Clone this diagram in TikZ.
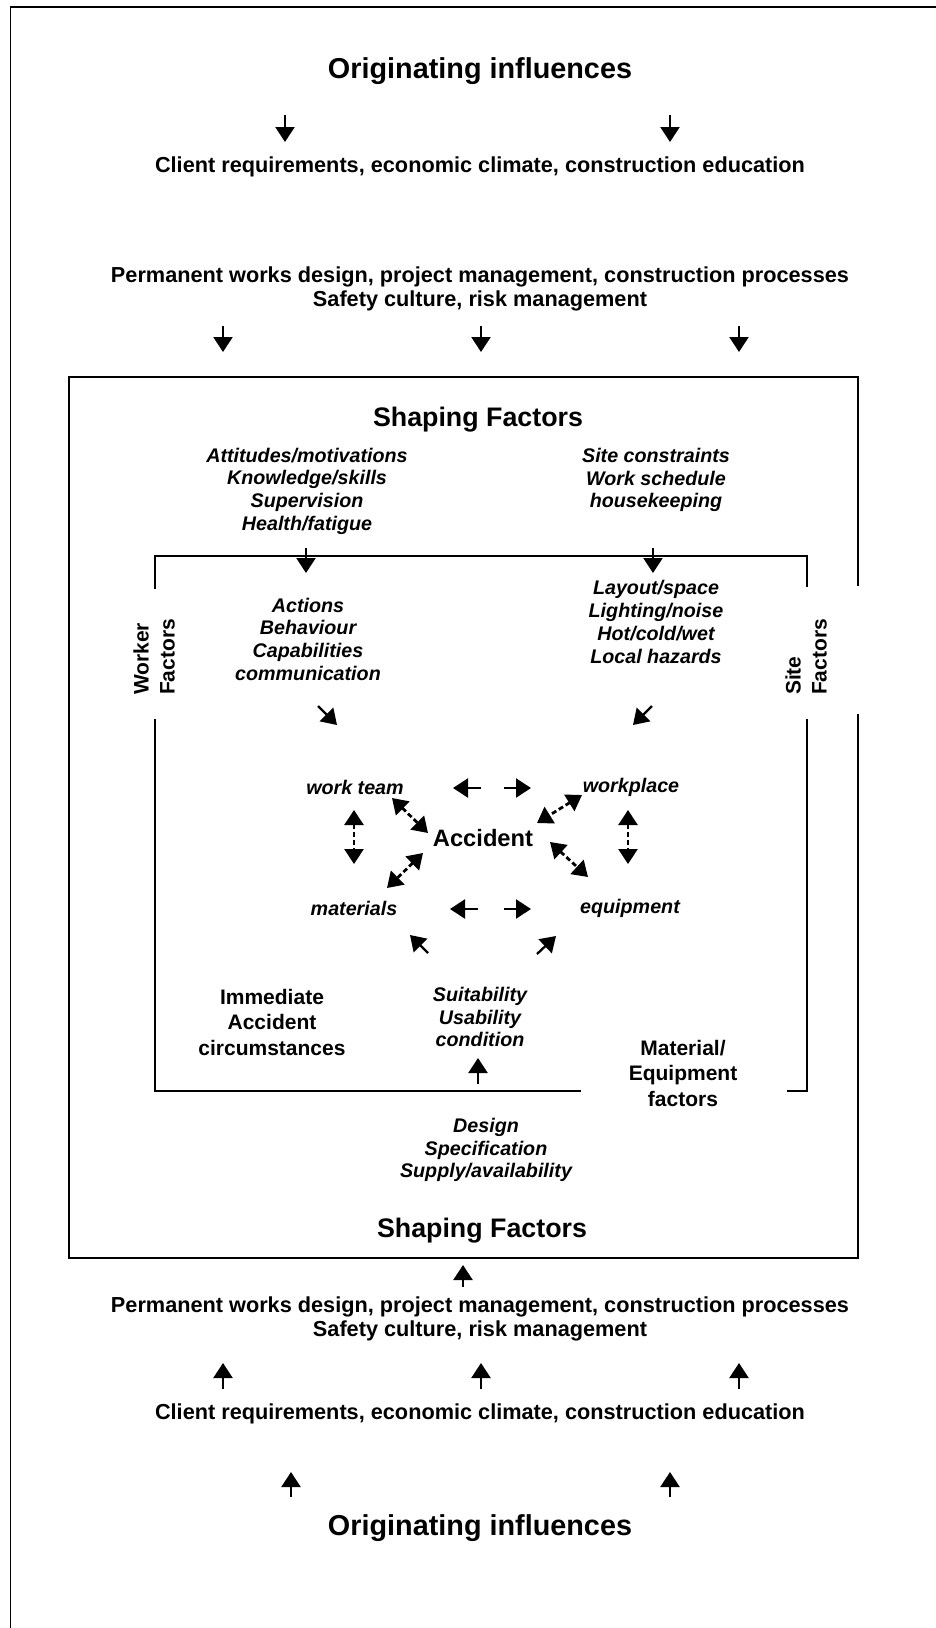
\documentclass[tikz,border=0pt]{standalone}
\usepackage{fontspec}
\setmainfont{Liberation Sans}
\usetikzlibrary{arrows.meta}

\begin{document}
\begin{tikzpicture}[x=1pt,y=-1pt,
  frame/.style={line width=1.8pt, line cap=rect},
  boxline/.style={line width=1.5pt},
  head/.style={font=\bfseries\fontsize{28.8}{32}\selectfont, inner sep=0pt},
  subhead/.style={font=\bfseries\fontsize{26.8}{30}\selectfont, inner sep=0pt},
  lbl/.style={font=\bfseries\fontsize{21.7}{24.5}\selectfont, align=center, inner sep=0pt},
  plain/.style={font=\bfseries\fontsize{21}{25.5}\selectfont, align=center, inner sep=0pt},
  side/.style={font=\bfseries\fontsize{21}{26}\selectfont, align=left, inner sep=0pt},
  ital/.style={font=\bfseries\itshape\fontsize{19.7}{22.7}\selectfont, align=center, inner sep=0pt},
  item/.style={font=\bfseries\itshape\fontsize{19.7}{22}\selectfont, inner sep=0pt},
  acc/.style={font=\bfseries\fontsize{23.7}{26}\selectfont, inner sep=0pt},
  tip/.tip={Triangle[length=15pt,width=19pt]},
  arr/.style={line width=2.3pt, -tip},
  darr/.style={line width=2.8pt, tip-tip, dash pattern=on 5pt off 3pt},
]
\useasboundingbox (0,0) rectangle (936,1628);

% page frame
\draw[frame] (10.5,1628) -- (10.5,7) -- (936,7);

% outer "Shaping Factors" box, opened where the site label sits
\draw[boxline] (858,586) -- (858,377) -- (69,377) -- (69,1258) -- (858,1258) -- (858,714);

% inner box, opened for the three side labels
\draw[boxline] (155,589) -- (155,556) -- (807,556) -- (807,587);
\draw[boxline] (807,719) -- (807,1091) -- (787,1091);
\draw[boxline] (581,1091) -- (155,1091) -- (155,719);

% texts
\node[head] (orig1) at (480,71) {Originating influences};
\node[lbl] (client1) at (480,167) {Client requirements, economic climate, construction education};
\node[lbl] (perm1) at (480,289) {Permanent works design, project management, construction processes\\Safety culture, risk management};
\node[subhead] (shape1) at (478,420) {Shaping Factors};
\node[ital] (workerin) at (307,491) {Attitudes/motivations\\Knowledge/skills\\Supervision\\Health/fatigue};
\node[ital] (sitein) at (656,480) {Site constraints\\Work schedule\\housekeeping};
\node[ital] (actions) at (308,639) {Actions\\Behaviour\\Capabilities\\communication};
\node[ital] (layout) at (656,622) {Layout/space\\Lighting/noise\\Hot/cold/wet\\Local hazards};
\node[side, rotate=90] (wf) at (154,657) {Worker\\Factors};
\node[side, rotate=90] (sf) at (806,657) {Site\\Factors};
\node[item] (team) at (355,787) {work team};
\node[item] (place) at (631,787) {workplace};
\node[acc] (accident) at (483,838) {Accident};
\node[item] (mat) at (354,908) {materials};
\node[item] (equip) at (630,908) {equipment};
\node[plain] (imm) at (272,1022) {Immediate\\Accident\\circumstances};
\node[ital] (suit) at (480,1017) {Suitability\\Usability\\condition};
\node[plain] (meq) at (683,1073) {Material/\\Equipment\\factors};
\node[ital] (design) at (486,1150) {Design\\Specification\\Supply/availability};
\node[subhead] (shape2) at (482,1231) {Shaping Factors};
\node[lbl] (perm2) at (480,1319) {Permanent works design, project management, construction processes\\Safety culture, risk management};
\node[lbl] (client2) at (480,1414) {Client requirements, economic climate, construction education};
\node[head] (orig2) at (480,1528) {Originating influences};

% single arrows: name / start / end
\foreach \n/\xa/\ya/\xb/\yb in {
  d1/285/115/285/142, d2/670/115/670/142,
  d3/223/326/223/352, d4/481/326/481/352, d5/739/326/739/352,
  d6/306/548/306/573, d7/653/548/653/573,
  s1/318/706/337/725, s2/652/706/633/725,
  h1/481/788/453/788, h2/504/788/531/788,
  h3/478/909/450/909, h4/504/909/531/909,
  s3/428/953/410/935, s4/537/954/556/936,
  u1/478/1084/478/1058, u2/463/1287/463/1265,
  u3/223/1389/223/1363, u4/481/1389/481/1363, u5/739/1389/739/1363,
  u6/291/1497/291/1472, u7/670/1497/670/1472}
{
  \coordinate (\n a) at (\xa,\ya);
  \coordinate (\n b) at (\xb,\yb);
  \draw[arr] (\n a) -- (\n b);
}

% dashed two-way links around the accident
\foreach \n/\xa/\ya/\xb/\yb in {
  b1/392/798/428/833, b2/582/795/537/823,
  b3/550/842/588/877, b4/423/853/387/888,
  b5/354/810/354/864, b6/628/810/628/864}
{
  \coordinate (\n a) at (\xa,\ya);
  \coordinate (\n b) at (\xb,\yb);
  \draw[darr] (\n a) -- (\n b);
}
\end{tikzpicture}
\end{document}
